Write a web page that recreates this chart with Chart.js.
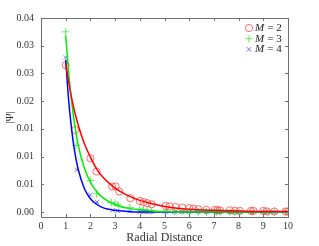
<!DOCTYPE html>
<html>
<head>
<meta charset="utf-8">
<script src="https://cdn.jsdelivr.net/npm/chart.js@4"></script>
<style>
  html, body { margin: 0; padding: 0; background: #fff; }
  #wrap { width: 319px; height: 246px; position: relative; }
</style>
</head>
<body>
<div id="wrap"><canvas id="c" width="319" height="246"></canvas></div>
<script>
// ---- data ----
const seriesLabels = ['2', '3', '4'];

const m2X = [1.0, 1.38, 2.0, 2.25, 2.88, 3.02, 3.17, 3.62, 4.0, 4.15, 4.3, 4.48, 5.05, 5.2, 5.45, 5.72, 6.0, 6.17, 6.37, 6.7, 7.05, 7.15, 7.25, 7.65, 7.85, 8.05, 8.5, 8.6, 9.0, 9.15, 9.45, 9.9, 10.0];
const m2Y = [0.0265, 0.0148, 0.0097, 0.0073, 0.0046, 0.0046, 0.0037, 0.0025, 0.0020, 0.0018, 0.0016, 0.0014, 0.0011, 0.0010, 0.0009, 0.0008, 0.0007, 0.0006, 0.0005, 0.0004, 0.0004, 0.0003, 0.0003, 0.0003, 0.0002, 0.0002, 0.0002, 0.0002, 0.0002, 0.0001, 0.0001, 0.0001, 0.0001];

const m3X = [1.0, 1.42, 2.0, 2.25, 2.85, 3.0, 3.12, 3.6, 4.0, 4.15, 4.3, 4.48, 5.05, 5.4, 5.72, 6.0, 6.37, 6.7, 7.1, 7.25, 7.65, 7.85, 8.05, 8.55, 9.0, 9.2, 9.45, 9.95];
const m3Y = [0.0325, 0.0120, 0.0057, 0.0033, 0.0017, 0.0016, 0.0013, 0.0008, 0.0005, 0.0004, 0.0003, 0.0002, 0.0001, 0.0001, 0.0001, 0.0000, 0.0000, 0.0000, 0.0000, 0.0000, 0.0000, 0.0000, 0.0000, 0.0000, 0.0000, 0.0000, 0.0000, 0.0000];

const m4X = [1.0, 1.45, 2.0, 2.27, 2.9, 3.1, 3.6, 4.0, 4.15, 4.3, 4.48, 5.05, 5.4, 5.72, 6.0, 6.37, 6.7, 7.1, 7.25, 7.65, 7.85, 8.05, 8.55, 9.0, 9.2, 9.45, 9.95];
const m4Y = [0.0279, 0.0076, 0.0031, 0.0018, 0.0003, 0.0002, 0.0001, 0.0000, 0.0000, 0.0000, 0.0000, 0.0000, 0.0000, 0.0000, 0.0000, 0.0000, 0.0000, 0.0000, 0.0000, 0.0000, 0.0000, 0.0000, 0.0000, 0.0000, 0.0000, 0.0000, 0.0000];

const curveX  = [1, 1.1, 1.2, 1.3, 1.4, 1.5, 1.75, 2, 2.25, 2.5, 3, 3.5, 4, 4.5, 5, 6, 7, 8, 9, 10];
const curveM2 = [0.0268, 0.0240, 0.0215, 0.0193, 0.0174, 0.0158, 0.0124, 0.0099, 0.0078, 0.0063, 0.0043, 0.0030, 0.0021, 0.0015, 0.0010, 0.0005, 0.0003, 0.0002, 0.0001, 0.0001];
const curveM3 = [0.0318, 0.0262, 0.0215, 0.0178, 0.0148, 0.0122, 0.0080, 0.0054, 0.0037, 0.0026, 0.0013, 0.0007, 0.0004, 0.0002, 0.0001, 0.0000, 0.0000, 0.0000, 0.0000, 0.0000];
const curveM4 = [0.0275, 0.0212, 0.0165, 0.0128, 0.0100, 0.0078, 0.0043, 0.0024, 0.0014, 0.0008, 0.0003, 0.0001, 0.0000, 0.0000, 0.0000, 0.0000, 0.0000, 0.0000, 0.0000, 0.0000];

const xTicks = [0, 1, 2, 3, 4, 5, 6, 7, 8, 9, 10];
const yTicks = [0, 0.005, 0.01, 0.015, 0.02, 0.025, 0.03, 0.035];

const xTitle = 'Radial Distance';
const yTitle = '|\u03A8|';

// ---- build ----
const pts = (xs, ys) => xs.map((x, i) => ({ x: x, y: ys[i] }));
const SERIF = '"Liberation Serif", "DejaVu Serif", serif';

const markerSets = [
  { data: pts(m2X, m2Y), pointStyle: 'circle',   color: 'rgba(255,60,60,0.75)', r: 3.6 },
  { data: pts(m3X, m3Y), pointStyle: 'cross',    color: 'rgba(60,230,60,0.8)',  r: 3.8 },
  { data: pts(m4X, m4Y), pointStyle: 'crossRot', color: 'rgba(80,80,255,0.8)',  r: 3.0 }
];
const curveSets = [
  { data: pts(curveX, curveM2), color: '#ff0000' },
  { data: pts(curveX, curveM3), color: '#00ee00' },
  { data: pts(curveX, curveM4), color: '#0000ff' }
];

const datasets = [];
markerSets.forEach((m, i) => {
  datasets.push({
    label: 'M = ' + seriesLabels[i],
    isMarker: true,
    data: m.data,
    showLine: false,
    pointStyle: m.pointStyle,
    pointRadius: m.r,
    pointBorderWidth: 1,
    pointBorderColor: m.color,
    pointBackgroundColor: 'rgba(0,0,0,0)',
    borderColor: m.color,
    backgroundColor: 'rgba(0,0,0,0)',
    order: 5
  });
});
curveSets.forEach((c, i) => {
  datasets.push({
    label: 'fit ' + seriesLabels[i],
    data: c.data,
    showLine: true,
    pointRadius: 0,
    borderColor: c.color,
    borderWidth: 1.5,
    cubicInterpolationMode: 'monotone',
    fill: false,
    order: 1
  });
});

const boxPlugin = {
  id: 'boxTicks',
  afterDraw(chart) {
    const ctx = chart.ctx;
    const a = chart.chartArea;
    const xs = chart.scales.x, ys = chart.scales.y;
    ctx.save();
    ctx.strokeStyle = '#6e6e6e';
    ctx.lineWidth = 1;
    ctx.beginPath();
    ctx.rect(Math.round(a.left) + 0.5, Math.round(a.top) + 0.5, Math.round(a.right - a.left), Math.round(a.bottom - a.top));
    ctx.stroke();
    const L = 3;
    ctx.beginPath();
    xTicks.forEach(v => {
      const p = Math.round(xs.getPixelForValue(v)) + 0.5;
      ctx.moveTo(p, a.bottom); ctx.lineTo(p, a.bottom - L);
      ctx.moveTo(p, a.top); ctx.lineTo(p, a.top + L);
    });
    yTicks.forEach(v => {
      const p = Math.round(ys.getPixelForValue(v)) + 0.5;
      ctx.moveTo(a.left, p); ctx.lineTo(a.left + L, p);
      ctx.moveTo(a.right, p); ctx.lineTo(a.right - L, p);
    });
    ctx.stroke();

    // legend inside the axes, top-right
    const mk = chart.data.datasets.filter(d => d.isMarker);
    const mx = a.right - 39, tx = a.right - 33;
    mk.forEach((d, i) => {
      const y = a.top + 10 + i * 10.7;
      ctx.strokeStyle = d.pointBorderColor;
      ctx.lineWidth = 1;
      const r = d.pointRadius;
      ctx.beginPath();
      if (d.pointStyle === 'circle') {
        ctx.arc(mx, y, r, 0, Math.PI * 2);
      } else if (d.pointStyle === 'cross') {
        ctx.moveTo(mx - r, y); ctx.lineTo(mx + r, y);
        ctx.moveTo(mx, y - r); ctx.lineTo(mx, y + r);
      } else {
        const q = r * 0.75;
        ctx.moveTo(mx - q, y - q); ctx.lineTo(mx + q, y + q);
        ctx.moveTo(mx - q, y + q); ctx.lineTo(mx + q, y - q);
      }
      ctx.stroke();
      ctx.fillStyle = '#222';
      ctx.textBaseline = 'middle';
      ctx.textAlign = 'left';
      ctx.font = 'italic 11px ' + SERIF;
      ctx.fillText('M', tx, y);
      let cx = tx + ctx.measureText('M').width + 3;
      ctx.font = '11px ' + SERIF;
      ctx.fillText('=', cx, y);
      cx += ctx.measureText('=').width + 3;
      ctx.fillText(seriesLabels[i], cx, y);
    });
    ctx.restore();
  }
};

new Chart(document.getElementById('c'), {
  type: 'scatter',
  data: { datasets: datasets },
  options: {
    responsive: false,
    animation: false,
    devicePixelRatio: 1,
    layout: { padding: { top: 18, right: 31, left: 0, bottom: 0 } },
    plugins: { legend: { display: false }, tooltip: { enabled: false } },
    scales: {
      x: {
        type: 'linear',
        min: 0, max: 10,
        afterBuildTicks: s => { s.ticks = xTicks.map(v => ({ value: v })); },
        afterFit: s => { s.height = 29; },
        grid: { display: false, drawTicks: false },
        border: { display: false },
        ticks: { color: '#333', font: { family: SERIF, size: 10 }, padding: 3, maxRotation: 0,
                 callback: v => String(v) },
        title: { display: true, text: xTitle, color: '#333', font: { family: SERIF, size: 12 }, padding: { top: 0, bottom: 1 } }
      },
      y: {
        type: 'linear',
        min: -0.0009, max: 0.035,
        afterBuildTicks: s => { s.ticks = yTicks.map(v => ({ value: v })); },
        afterFit: s => { s.width = 41; },
        grid: { display: false, drawTicks: false },
        border: { display: false },
        ticks: { color: '#333', font: { family: SERIF, size: 10 }, padding: 7,
                 callback: v => Number(v).toFixed(2) },
        title: { display: true, text: yTitle, color: '#333', font: { family: SERIF, size: 11 }, padding: { top: 4, bottom: 0 } }
      }
    }
  },
  plugins: [boxPlugin]
});
</script>
</body>
</html>
